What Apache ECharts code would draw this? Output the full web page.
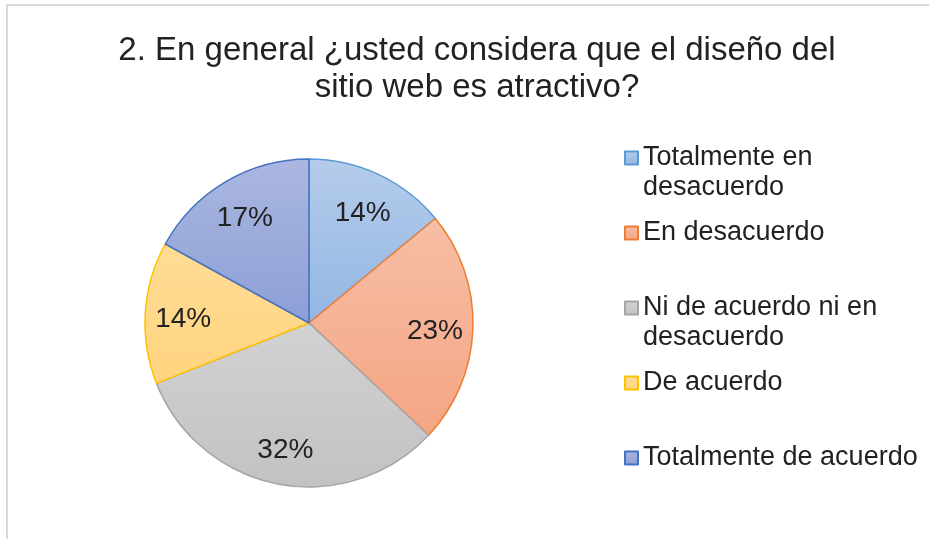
<!DOCTYPE html>
<html>
<head>
<meta charset="utf-8">
<script src="https://cdn.jsdelivr.net/npm/echarts@6/dist/echarts.min.js"></script>
<style>
html,body{margin:0;padding:0;background:#fff;overflow:hidden;}
#frame{position:absolute;left:6px;top:4px;width:1000px;height:1000px;border-left:2px solid #d9d9d9;border-top:2px solid #d9d9d9;}
#chart{position:absolute;left:0;top:0;width:929px;height:539px;}
</style>
</head>
<body>
<div id="frame"></div>
<div id="chart"></div>
<script>
var titleText = '2. En general ¿usted considera que el diseño del\nsitio web es atractivo?';
var categories = ['Totalmente en\ndesacuerdo', 'En desacuerdo', 'Ni de acuerdo ni en\ndesacuerdo', 'De acuerdo', 'Totalmente de acuerdo'];
var values = [14, 23, 32, 14, 17];
var fillTop = ['#b5cceb', '#f7bea6', '#d2d2d2', '#ffdc96', '#abb7e0'];
var fillBottom = ['#93b6e2', '#f4a583', '#c2c2c2', '#ffd47e', '#8c9fd6'];
var borders = ['#5b9bd5', '#ed7d31', '#a5a5a5', '#ffc000', '#4472c4'];

function grad(i){
  return new echarts.graphic.LinearGradient(0,0,0,1,[{offset:0,color:fillTop[i]},{offset:1,color:fillBottom[i]}]);
}

var mainData = categories.map(function(c,i){
  return {name:c, value:values[i], itemStyle:{color:grad(i), borderColor:borders[i], borderWidth:1.5}};
});
var labelData = categories.map(function(c,i){
  return {name:c, value:values[i]};
});
var legendData = categories.map(function(c){
  var twoLine = c.indexOf('\n') >= 0;
  return twoLine ? {name:c} : {name:c, textStyle:{padding:[30,0,30,0]}};
});

var chart = echarts.init(document.getElementById('chart'), null, {renderer:'canvas'});
chart.setOption({
  animation:false,
  title:{
    text:titleText,
    left:472, textAlign:'center', top:27,
    textStyle:{fontFamily:'Liberation Sans, Arial, sans-serif', fontSize:33, fontWeight:'normal', color:'#222', lineHeight:37}
  },
  legend:{
    orient:'vertical',
    left:624, top:113,
    padding:0,
    itemGap:-15,
    itemWidth:13, itemHeight:13,
    icon:'rect',
    selectedMode:false,
    data:legendData,
    formatter:function(name){ return name.indexOf('\n') >= 0 ? ' \n' + name : name; },
    textStyle:{fontFamily:'Liberation Sans, Arial, sans-serif', fontSize:27, color:'#222', lineHeight:30}
  },
  series:[
    {
      type:'pie',
      center:[309,323],
      radius:164,
      startAngle:90,
      clockwise:true,
      silent:true,
      label:{show:false},
      labelLine:{show:false},
      emphasis:{disabled:true},
      data:mainData
    },
    {
      type:'pie',
      center:[309,327],
      radius:[82,164],
      startAngle:90,
      clockwise:true,
      silent:true,
      legendHoverLink:false,
      itemStyle:{color:'rgba(0,0,0,0)', borderWidth:0},
      label:{show:true, position:'inside', formatter:'{c}%', fontFamily:'Liberation Sans, Arial, sans-serif', fontSize:28, color:'#222'},
      labelLine:{show:false},
      emphasis:{disabled:true},
      data:labelData
    }
  ]
});
</script>
</body>
</html>
